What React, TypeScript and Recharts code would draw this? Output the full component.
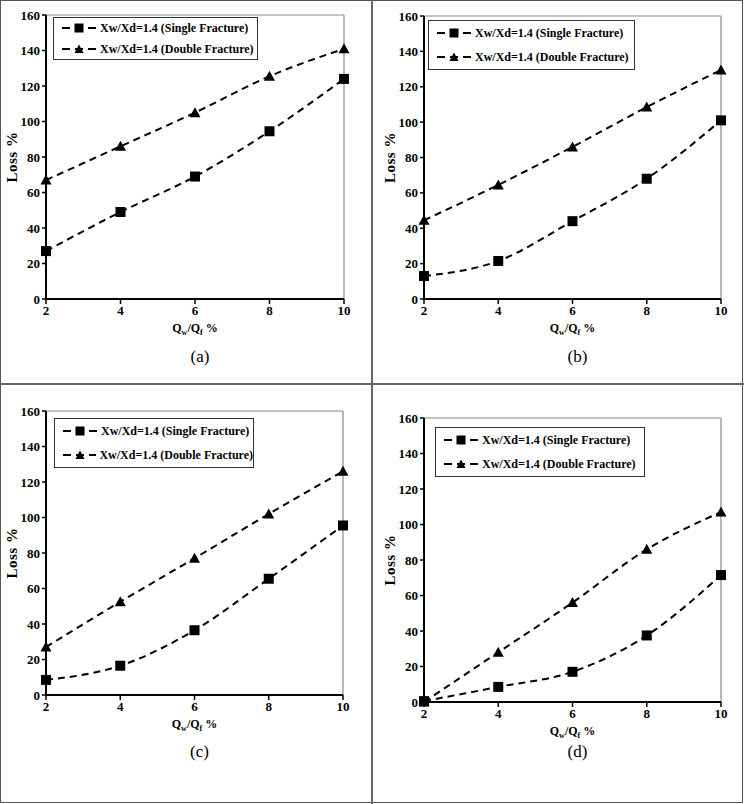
import React from 'react';
import { LineChart, Line, XAxis, YAxis, ReferenceLine } from 'recharts';

// Qw/Qf % on the x axis
const qRatio = [2, 4, 6, 8, 10];
const yTicks = [0, 20, 40, 60, 80, 100, 120, 140, 160];

// loss %
const singleA = [27, 49, 69, 94.5, 124];
const doubleA = [67, 86, 105, 125.5, 141];
const singleB = [13, 21.5, 44, 68, 101];
const doubleB = [44.5, 64.5, 86, 108.5, 129.5];
const singleC = [8.5, 16.5, 36.5, 65.5, 95.5];
const doubleC = [27, 52.5, 77, 102, 126];
const singleD = [0.5, 8.5, 17, 37.5, 71.5];
const doubleD = [0, 28, 56, 86, 107];

const singleName = 'Xw/Xd=1.4 (Single Fracture)';
const doubleName = 'Xw/Xd=1.4 (Double Fracture)';

const FONT = '"Liberation Serif", "Times New Roman", serif';
const Y_AXIS_W = 46;
const TOP_PAD = 8;

const toRows = (single: number[], double: number[]) =>
  qRatio.map((x, i) => ({ x, single: single[i], double: double[i] }));

const panels = [
  { tag: '(a)', data: toRows(singleA, doubleA), plot: { l: 46, t: 15, r: 344, b: 299 }, legend: { l: 53, t: 17, r: 258, b: 60 }, captionY: 357 },
  { tag: '(b)', data: toRows(singleB, doubleB), plot: { l: 424, t: 16, r: 721, b: 299 }, legend: { l: 428, t: 20, r: 635, b: 70 }, captionY: 357 },
  { tag: '(c)', data: toRows(singleC, doubleC), plot: { l: 46, t: 411, r: 343, b: 695 }, legend: { l: 54, t: 418, r: 254, b: 468 }, captionY: 752 },
  { tag: '(d)', data: toRows(singleD, doubleD), plot: { l: 424, t: 418, r: 721, b: 702 }, legend: { l: 435, t: 427, r: 645, b: 477 }, captionY: 752 },
];

const SquareDot = (props: any) => {
  const { cx, cy, index } = props;
  if (cx == null || cy == null) return null;
  return <rect key={`sq-${index}`} x={cx - 5} y={cy - 5} width={10} height={10} fill="#000" />;
};

const TriangleDot = (props: any) => {
  const { cx, cy, index } = props;
  if (cx == null || cy == null) return null;
  return (
    <path
      key={`tr-${index}`}
      d={`M${cx},${cy - 5.5} L${cx + 5.5},${cy + 4.5} L${cx - 5.5},${cy + 4.5} Z`}
      fill="#000"
    />
  );
};

const XTitle = (props: any) => {
  const { x, y, width } = props.viewBox;
  return (
    <text x={x + width / 2} y={y + 33} textAnchor="middle" fontFamily={FONT} fontWeight="bold" fontSize={12} fill="#000">
      Q<tspan fontSize={8} dy={3}>w</tspan>
      <tspan dy={-3}>/Q</tspan>
      <tspan fontSize={8} dy={3}>f</tspan>
      <tspan dy={-3}> %</tspan>
    </text>
  );
};

const YTitle = (props: any) => {
  const { x, y, height } = props.viewBox;
  const cx = x + 12;
  const cy = y + height / 2;
  return (
    <text
      x={cx}
      y={cy}
      transform={`rotate(-90 ${cx} ${cy})`}
      textAnchor="middle"
      dominantBaseline="central"
      fontFamily={FONT}
      fontWeight="bold"
      fontSize={15}
      letterSpacing={0.5}
      fill="#000"
    >
      Loss %
    </text>
  );
};

const LegendGlyph = ({ kind }: { kind: 'square' | 'triangle' }) => (
  <svg width={36} height={12} style={{ display: 'block' }}>
    <line x1={1} x2={35} y1={6} y2={6} stroke="#000" strokeWidth={2} strokeDasharray="8 5" />
    {kind === 'square' ? (
      <rect x={13.5} y={1.5} width={9} height={9} fill="#000" />
    ) : (
      <path d="M18,1.5 L22.5,10 L13.5,10 Z" fill="#000" />
    )}
  </svg>
);

const LegendBox = ({ box }: { box: { l: number; t: number; r: number; b: number } }) => (
  <div
    style={{
      position: 'absolute',
      left: box.l,
      top: box.t,
      width: box.r - box.l,
      height: box.b - box.t,
      boxSizing: 'border-box',
      border: '1.5px solid #333',
      background: '#fff',
      display: 'flex',
      flexDirection: 'column',
      justifyContent: 'space-around',
      fontFamily: FONT,
      fontWeight: 'bold',
      fontSize: 12,
      color: '#000',
      zIndex: 2,
    }}
  >
    {[
      { kind: 'square' as const, name: singleName },
      { kind: 'triangle' as const, name: doubleName },
    ].map((s) => (
      <div key={s.name} style={{ display: 'flex', alignItems: 'center', paddingLeft: 7, whiteSpace: 'nowrap', lineHeight: '14px' }}>
        <LegendGlyph kind={s.kind} />
        <span style={{ marginLeft: 3 }}>{s.name}</span>
      </div>
    ))}
  </div>
);

const tickStyle = { fontSize: 13, fontWeight: 'bold', fill: '#000', fontFamily: FONT };

const Panel = ({ p }: { p: (typeof panels)[number] }) => {
  const plotW = p.plot.r - p.plot.l;
  const plotH = p.plot.b - p.plot.t;
  const width = plotW + Y_AXIS_W + 10;
  const height = plotH + TOP_PAD + 45;
  return (
    <>
      <div style={{ position: 'absolute', left: p.plot.l - Y_AXIS_W, top: p.plot.t - TOP_PAD, zIndex: 1 }}>
        <LineChart width={width} height={height} data={p.data} margin={{ top: TOP_PAD, right: 10, left: 0, bottom: 0 }}>
          <ReferenceLine y={160} stroke="#8a8a8a" strokeWidth={1.2} />
          <ReferenceLine x={10} stroke="#8a8a8a" strokeWidth={1.2} />
          <XAxis
            dataKey="x"
            type="number"
            domain={[2, 10]}
            ticks={qRatio}
            height={45}
            tick={tickStyle}
            tickSize={5}
            tickMargin={2}
            axisLine={{ stroke: '#000', strokeWidth: 2 }}
            tickLine={{ stroke: '#000', strokeWidth: 1.5 }}
            label={{ content: XTitle }}
          />
          <YAxis
            type="number"
            domain={[0, 160]}
            ticks={yTicks}
            width={Y_AXIS_W}
            tick={tickStyle}
            tickSize={4}
            tickMargin={2}
            axisLine={{ stroke: '#000', strokeWidth: 2 }}
            tickLine={{ stroke: '#000', strokeWidth: 1.5 }}
            label={{ content: YTitle }}
          />
          <Line
            type="monotone"
            dataKey="single"
            name={singleName}
            stroke="#000"
            strokeWidth={2}
            strokeDasharray="7 5"
            dot={SquareDot}
            activeDot={false}
            isAnimationActive={false}
          />
          <Line
            type="monotone"
            dataKey="double"
            name={doubleName}
            stroke="#000"
            strokeWidth={2}
            strokeDasharray="7 5"
            dot={TriangleDot}
            activeDot={false}
            isAnimationActive={false}
          />
        </LineChart>
      </div>
      <LegendBox box={p.legend} />
      <div
        style={{
          position: 'absolute',
          left: (p.plot.l + p.plot.r) / 2 + 5 - 40,
          width: 80,
          top: p.captionY - 11,
          textAlign: 'center',
          fontFamily: FONT,
          fontSize: 17,
          lineHeight: '22px',
          color: '#000',
        }}
      >
        {p.tag}
      </div>
    </>
  );
};

export default function App() {
  return (
    <div style={{ position: 'absolute', left: 0, top: 0, width: 744, height: 804, background: '#fff', overflow: 'hidden' }}>
      {panels.map((p) => (
        <Panel key={p.tag} p={p} />
      ))}
      {/* frame and dividers between the four panels */}
      <div style={{ position: 'absolute', left: 0, top: 0, width: 743, height: 803, boxSizing: 'border-box', border: '1.5px solid #555' }} />
      <div style={{ position: 'absolute', left: 371, top: 0, width: 1.5, height: 804, background: '#666' }} />
      <div style={{ position: 'absolute', left: 0, top: 383, width: 744, height: 1.5, background: '#666' }} />
    </div>
  );
}
